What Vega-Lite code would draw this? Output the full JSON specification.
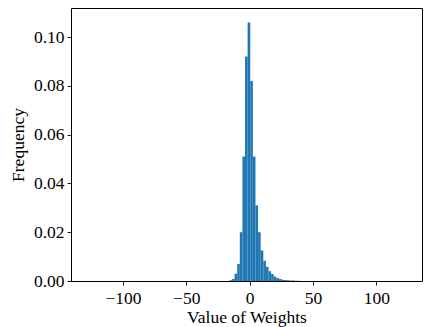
{
  "$schema": "https://vega.github.io/schema/vega-lite/v6.json",
  "width": 351,
  "height": 273,
  "autosize": {"type": "none"},
  "padding": {"left": 71, "top": 8, "right": 5, "bottom": 46},
  "background": "white",
  "config": {
    "view": {"stroke": "#000000", "strokeWidth": 1},
    "font": "Liberation Serif",
    "axis": {
      "grid": false,
      "domain": false,
      "tickColor": "#000000",
      "tickSize": 4,
      "tickWidth": 0.9,
      "labelFont": "Liberation Serif",
      "labelFontSize": 17.5,
      "labelColor": "#000000",
      "titleFont": "Liberation Serif",
      "titleFontSize": 17.5,
      "titleFontWeight": "normal",
      "titleColor": "#000000",
      "labelPadding": 3
    }
  },
  "data": {
    "values": [
      {"start": -16.02, "end": -13.96, "freq": 0.0003},
      {"start": -13.96, "end": -11.9, "freq": 0.0008},
      {"start": -11.9, "end": -9.84, "freq": 0.003},
      {"start": -9.84, "end": -7.78, "freq": 0.007},
      {"start": -7.78, "end": -5.72, "freq": 0.020},
      {"start": -5.72, "end": -3.66, "freq": 0.051},
      {"start": -3.66, "end": -1.6, "freq": 0.092},
      {"start": -1.6, "end": 0.46, "freq": 0.106},
      {"start": 0.46, "end": 2.52, "freq": 0.082},
      {"start": 2.52, "end": 4.58, "freq": 0.051},
      {"start": 4.58, "end": 6.64, "freq": 0.031},
      {"start": 6.64, "end": 8.7, "freq": 0.020},
      {"start": 8.7, "end": 10.76, "freq": 0.0125},
      {"start": 10.76, "end": 12.82, "freq": 0.0083},
      {"start": 12.82, "end": 14.88, "freq": 0.0058},
      {"start": 14.88, "end": 16.94, "freq": 0.0040},
      {"start": 16.94, "end": 19.0, "freq": 0.0028},
      {"start": 19.0, "end": 21.06, "freq": 0.0018},
      {"start": 21.06, "end": 23.12, "freq": 0.0012},
      {"start": 23.12, "end": 25.18, "freq": 0.0008},
      {"start": 25.18, "end": 27.24, "freq": 0.0005},
      {"start": 27.24, "end": 29.3, "freq": 0.0004},
      {"start": 29.3, "end": 31.36, "freq": 0.0003},
      {"start": 31.36, "end": 33.42, "freq": 0.0002},
      {"start": 33.42, "end": 35.48, "freq": 0.0002},
      {"start": 35.48, "end": 37.54, "freq": 0.0001},
      {"start": 37.54, "end": 39.6, "freq": 0.0001}
    ]
  },
  "mark": {"type": "rect", "color": "#1f77b4"},
  "encoding": {
    "x": {
      "field": "start",
      "type": "quantitative",
      "scale": {"domain": [-141, 136], "nice": false, "zero": false},
      "axis": {"values": [-100, -50, 0, 50, 100], "title": "Value of Weights", "labelPadding": 4, "titlePadding": 2}
    },
    "x2": {"field": "end"},
    "y": {
      "field": "freq",
      "type": "quantitative",
      "scale": {"domain": [0, 0.1119], "nice": false},
      "axis": {"values": [0, 0.02, 0.04, 0.06, 0.08, 0.1], "format": ".2f", "title": "Frequency", "titlePadding": 6}
    },
    "y2": {"datum": 0}
  }
}
